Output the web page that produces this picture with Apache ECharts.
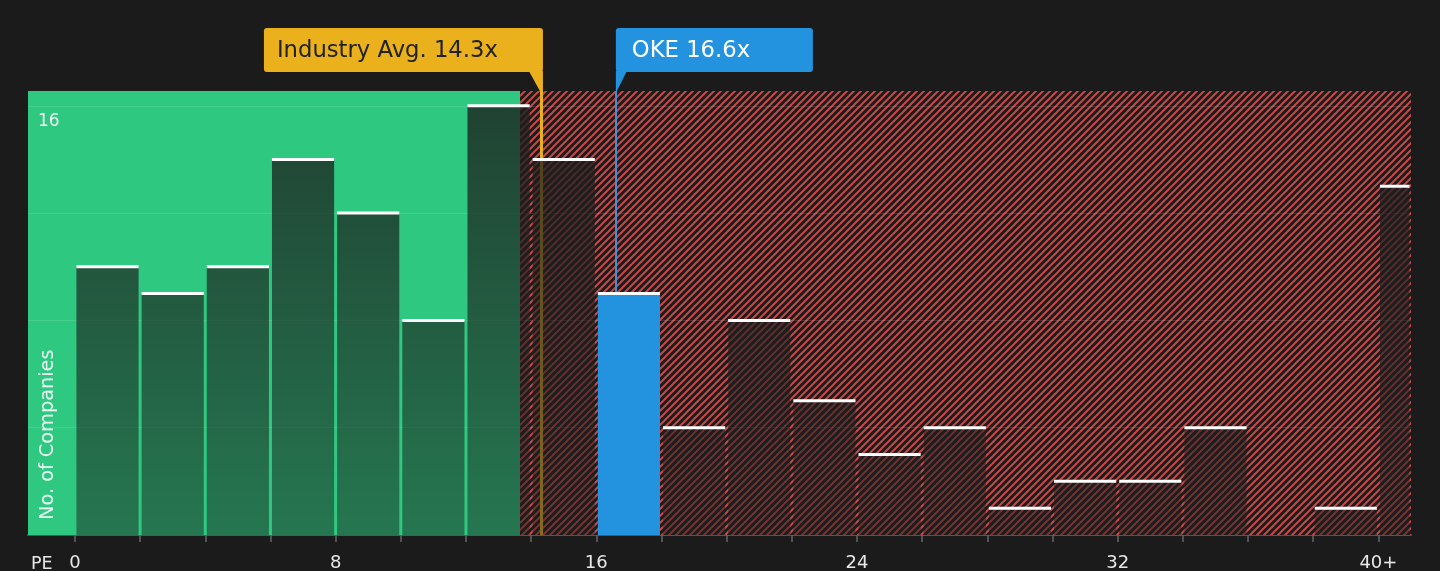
<!DOCTYPE html>
<html lang="en">
<head>
    <meta charset="UTF-8">
    <title>PE distribution</title>
    <script src="https://cdn.jsdelivr.net/npm/echarts@6/dist/echarts.min.js"></script>
</head>
<style>
    html, body { margin: 0; padding: 0; background: #1b1b1b; }
    #main { width: 1440px; height: 571px; }
</style>
<body>
<div id="main"></div>
<script>
    // histogram bins (PE) and company counts
    var binStart = [0, 2, 4, 6, 8, 10, 12, 14, 16, 18, 20, 22, 24, 26, 28, 30, 32, 34, 36, 38, 40];
    var binEnd   = [2, 4, 6, 8, 10, 12, 14, 16, 18, 20, 22, 24, 26, 28, 30, 32, 34, 36, 38, 40, 41];
    var counts   = [10, 9, 10, 14, 12, 8, 16, 14, 9, 4, 8, 5, 3, 4, 1, 2, 2, 4, 0, 1, 13];
    var xTicks   = [0, 2, 4, 6, 8, 10, 12, 14, 16, 18, 20, 22, 24, 26, 28, 30, 32, 34, 36, 38, 40];
    var xLabels  = [0, 8, 16, 24, 32, 40];
    var yGrid    = [4, 8, 12, 16];
    var yLabels  = [16];
    var industryAvg = 14.3;
    var companyPE = 16.6;
    var companyName = 'OKE';
    var fairEnd = 13.66;   // end of green zone
    var xMin = -1.44, xMax = 41, yMax = 16.55;

    // red hatch tile
    function hatch() {
        var s = 7;
        var c = document.createElement('canvas');
        c.width = s; c.height = s;
        var g = c.getContext('2d');
        g.fillStyle = '#1b1b1b';
        g.fillRect(0, 0, s, s);
        g.strokeStyle = '#c84747';
        g.lineWidth = 2;
        g.beginPath();
        g.moveTo(-1, s + 1); g.lineTo(s + 1, -1);
        g.moveTo(-1, 1); g.lineTo(1, -1);
        g.moveTo(s - 1, s + 1); g.lineTo(s + 1, s - 1);
        g.stroke();
        return c;
    }

    var data = [];
    for (var i = 0; i < binStart.length; i++) {
        data.push([binStart[i], binEnd[i], counts[i]]);
    }

    // grid lines sit above the zones but under the bars
    var lines = [];
    for (var j = 0; j < yGrid.length; j++) {
        lines.push({ yAxis: yGrid[j], lineStyle: { color: 'rgba(255,255,255,0.12)', width: 1, type: 'solid' } });
    }
    lines.push({ xAxis: industryAvg, lineStyle: { color: '#eab11c', width: 3, type: 'solid' } });
    lines.push({ xAxis: companyPE, lineStyle: { color: '#3f8fd8', width: 2, type: 'solid' } });

    var myChart = echarts.init(document.getElementById('main'));
    var option = {
        backgroundColor: '#1b1b1b',
        animation: false,
        grid: { left: 28, right: 29, top: 91, bottom: 36, outerBoundsMode: 'none' },
        xAxis: {
            type: 'value',
            min: xMin,
            max: xMax,
            splitLine: { show: false },
            axisLine: { lineStyle: { color: '#555', width: 2 } },
            axisTick: {
                customValues: xTicks,
                length: 7,
                lineStyle: { color: '#666', width: 1.5 }
            },
            axisLabel: {
                customValues: xLabels,
                margin: 19,
                color: '#e8e8e8',
                fontSize: 18,
                fontFamily: 'DejaVu Sans',
                formatter: function (v) { return v == 40 ? '40+' : v; }
            }
        },
        yAxis: {
            type: 'value',
            min: 0,
            max: yMax,
            interval: 4,
            z: 5,
            axisLine: { show: false },
            axisTick: { show: false },
            splitLine: { show: false },
            axisLabel: {
                customValues: yLabels,
                inside: true,
                margin: 10,
                verticalAlign: 'top',
                padding: [7, 0, 0, 0],
                color: '#f2f2f2',
                fontSize: 17,
                fontFamily: 'DejaVu Sans'
            }
        },
        series: [
            {
                // zones
                type: 'custom',
                z: 1,
                data: [],
                renderItem: function () { return null; },
                markArea: {
                    silent: true,
                    z: 1,
                    data: [
                        [{ xAxis: xMin, itemStyle: { color: '#2ec880' } }, { xAxis: fairEnd }],
                        [{ xAxis: fairEnd, itemStyle: { color: { image: hatch(), repeat: 'repeat' } } }, { xAxis: xMax }]
                    ]
                }
            },
            {
                type: 'custom',
                z: 2,
                data: [],
                renderItem: function () { return null; },
                markLine: {
                    silent: true,
                    z: 2,
                    symbol: 'none',
                    label: { show: false },
                    data: lines
                }
            },
            {
                type: 'custom',
                z: 3,
                data: data,
                renderItem: function (params, api) {
                    var x0 = api.value(0), x1 = api.value(1), v = api.value(2);
                    if (!v) return null;
                    var p0 = api.coord([x0, v]);
                    var p1 = api.coord([x1, 0]);
                    var top = api.coord([0, yMax])[1];
                    var left = p0[0] + 1.5;
                    var w = p1[0] - p0[0] - 3;
                    var isCo = companyPE >= x0 && companyPE < x1;
                    var fill = isCo ? '#2393e0' : {
                        type: 'linear', global: true,
                        x: 0, y: top, x2: 0, y2: p1[1],
                        colorStops: [
                            { offset: 0, color: 'rgba(28,30,29,0.80)' },
                            { offset: 1, color: 'rgba(28,30,29,0.48)' }
                        ]
                    };
                    return {
                        type: 'group',
                        children: [
                            { type: 'rect', shape: { x: left, y: p0[1], width: w, height: p1[1] - p0[1] }, style: { fill: fill } },
                            { type: 'rect', shape: { x: left, y: p0[1] - 1.5, width: w, height: 3 }, style: { fill: '#ffffff' } }
                        ]
                    };
                }
            }
        ]
    };
    myChart.setOption(option);

    // callouts placed through the axis scale
    var ix = myChart.convertToPixel({ xAxisIndex: 0, yAxisIndex: 0 }, [industryAvg, 0])[0];
    var cx = myChart.convertToPixel({ xAxisIndex: 0, yAxisIndex: 0 }, [companyPE, 0])[0];
    var pTop = myChart.convertToPixel({ xAxisIndex: 0, yAxisIndex: 0 }, [0, yMax])[1];

    myChart.setOption({
        graphic: [
            { type: 'rect', z: 100, shape: { x: ix - 277, y: 28, width: 279, height: 44, r: 3 }, style: { fill: '#eab11c' } },
            { type: 'polygon', z: 100, shape: { points: [[ix - 12, 71], [ix + 2, 71], [ix + 2, pTop], [ix - 1, pTop]] }, style: { fill: '#eab11c' } },
            { type: 'text', z: 101, x: ix - 264, y: 51, style: { text: 'Industry Avg. ' + industryAvg + 'x', fill: '#222', font: '22.7px "DejaVu Sans"', verticalAlign: 'middle' } },

            { type: 'rect', z: 100, shape: { x: cx, y: 28, width: 197, height: 44, r: 3 }, style: { fill: '#2393e0' } },
            { type: 'polygon', z: 100, shape: { points: [[cx, 71], [cx + 11, 71], [cx + 1, pTop], [cx, pTop]] }, style: { fill: '#2393e0' } },
            { type: 'text', z: 101, x: cx + 16, y: 51, style: { text: companyName + ' ' + companyPE + 'x', fill: '#fff', font: '22.7px "DejaVu Sans"', verticalAlign: 'middle' } },

            { type: 'text', z: 101, x: 48, y: 520, rotation: Math.PI / 2, style: { text: 'No. of Companies', fill: 'rgba(255,255,255,0.9)', font: '19.3px "DejaVu Sans"', verticalAlign: 'middle', align: 'left' } },
            { type: 'text', z: 101, x: 31, y: 564, style: { text: 'PE', fill: '#e8e8e8', font: '17.5px "DejaVu Sans"', verticalAlign: 'middle' } }
        ]
    });
</script>
</body>
</html>
